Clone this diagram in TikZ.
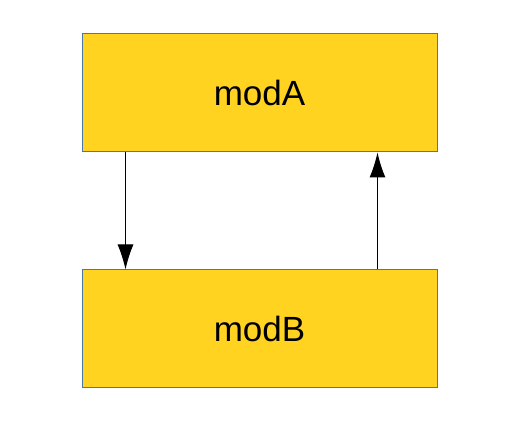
\documentclass[tikz,border=0pt]{standalone}
\usepackage{fontspec}
\setmainfont{Liberation Sans}
\usetikzlibrary{arrows.meta}
\definecolor{modyellow}{HTML}{FFD320}
\definecolor{modedge}{HTML}{4A76A8}
\begin{document}
\begin{tikzpicture}[x=1pt,y=1pt,
    modbox/.style={draw=modedge, line width=1pt, fill=modyellow, rectangle, minimum width=355pt, minimum height=118pt, inner sep=0pt, font=\fontsize{35}{40}\selectfont},
    flow/.style={-{Latex[length=25pt,width=16pt]}, line width=1pt, black}]
    \useasboundingbox (0,0) rectangle (520,426);

    \node (modA) at (259.5,333) [modbox] {modA};
    \node (modB) at (259.5,97) [modbox] {modB};

    \draw[flow] ([xshift=44pt]modA.south west) -- ([xshift=44pt]modB.north west);
    \draw[flow] ([xshift=-60pt]modB.north east) -- ([xshift=-60pt]modA.south east);
\end{tikzpicture}
\end{document}
